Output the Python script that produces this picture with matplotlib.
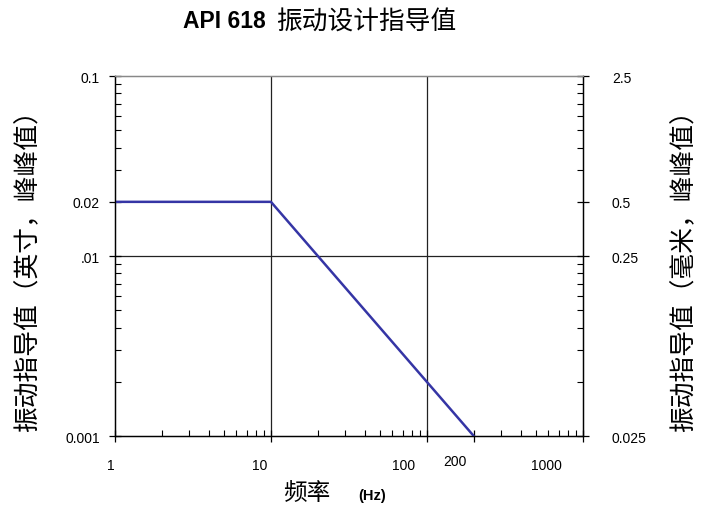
import matplotlib
matplotlib.use('Agg')
import matplotlib.pyplot as plt
import matplotlib.transforms as mtransforms
from matplotlib.ticker import FixedLocator, NullFormatter

plt.rcParams['font.family'] = ['Liberation Sans', 'Noto Sans CJK SC', 'DejaVu Sans']
cjk = ['Noto Sans CJK SC', 'DejaVu Sans']

# データ
freq = [1, 10, 200]              # Hz
disp_in = [0.02, 0.02, 0.001]    # 英寸, 峰峰值

x_ticks = [1, 10, 100, 200, 1000]
x_labels = ['1', '10', '100', '200', '1000']
yl_ticks = [0.001, 0.01, 0.02, 0.1]
yl_labels = ['0.001', '.01', '0.02', '0.1']
yr_ticks = [0.025, 0.25, 0.5, 2.5]
yr_labels = ['0.025', '0.25', '0.5', '2.5']

fig = plt.figure(figsize=(7.03, 5.10), dpi=100)
ax = fig.add_axes([0.1636, 0.143, 0.829 - 0.1636, 0.849 - 0.143])
ax.set_xscale('log')
ax.set_yscale('log')
ax.set_xlim(1, 1000)
ax.set_ylim(0.001, 0.1)

# グリッド線 (10, 100 Hz と 0.01)
for xv in [10, 100]:
    ax.axvline(xv, color='#222222', lw=0.9, zorder=1)
ax.axhline(0.01, color='#222222', lw=0.9, zorder=1)

ax.plot(freq, disp_in, color='#3535a5', lw=1.8, zorder=3)

ax.xaxis.set_major_locator(FixedLocator(x_ticks))
ax.set_xticklabels(x_labels)
ax.xaxis.set_minor_locator(FixedLocator([d * k for d in [1, 10, 100] for k in range(2, 10)]))
ax.xaxis.set_minor_formatter(NullFormatter())
ax.yaxis.set_major_locator(FixedLocator(yl_ticks))
ax.set_yticklabels(yl_labels)
ax.yaxis.set_minor_locator(FixedLocator([d * k for d in [0.001, 0.01] for k in range(2, 10)]))
ax.yaxis.set_minor_formatter(NullFormatter())
ax.tick_params(which='major', direction='inout', length=8, width=0.9, labelsize=10, pad=7)
ax.tick_params(which='minor', direction='in', length=4, width=0.8)
ax.tick_params(axis='x', which='major', pad=12)
ax.tick_params(axis='x', which='minor', top=False)

# x軸ラベルの位置ずれ (元画像に合わせる)
x_shift = {'1': -4, '10': -11, '100': -23, '200': -19, '1000': -36}
for t in ax.xaxis.get_major_ticks():
    txt = t.label1.get_text()
    if txt == '200':
        t.set_pad(9)
    t.label1.set_transform(t.label1.get_transform() +
                           mtransforms.ScaledTranslation(x_shift[txt] / 100, 0, fig.dpi_scale_trans))

ax2 = ax.twinx()
ax2.set_yscale('log')
ax2.set_ylim(0.025, 2.5)
ax2.yaxis.set_major_locator(FixedLocator(yr_ticks))
ax2.set_yticklabels(yr_labels)
ax2.yaxis.set_minor_locator(FixedLocator([d * k for d in [0.025, 0.25] for k in range(2, 10)]))
ax2.yaxis.set_minor_formatter(NullFormatter())
ax2.tick_params(which='major', direction='inout', length=8, width=0.9, labelsize=10, pad=17)
ax2.tick_params(which='minor', direction='in', length=4, width=0.8)

for a in (ax, ax2):
    for s in a.spines.values():
        s.set_linewidth(0.9)
    a.spines['top'].set_color('#888888')

fig.text(0.260, 0.957, 'API 618', fontsize=16.5, fontweight='bold', ha='left', va='center')
fig.text(0.393, 0.955, '振动设计指导值', fontsize=18.5, ha='left', va='center', family=cjk)
fig.text(0.437, 0.032, '频率', fontsize=17, ha='center', va='center', family=cjk)
fig.text(0.529, 0.027, '(Hz)', fontsize=10.5, fontweight='bold', ha='center', va='center')
fig.text(0.040, 0.481, '振动指导值（英寸，峰峰值）', fontsize=18.5, rotation=90,
         ha='center', va='center', family=cjk)
fig.text(0.973, 0.481, '振动指导值（毫米，峰峰值）', fontsize=18.5, rotation=90,
         ha='center', va='center', family=cjk)

fig.savefig('out.png', dpi=100)
